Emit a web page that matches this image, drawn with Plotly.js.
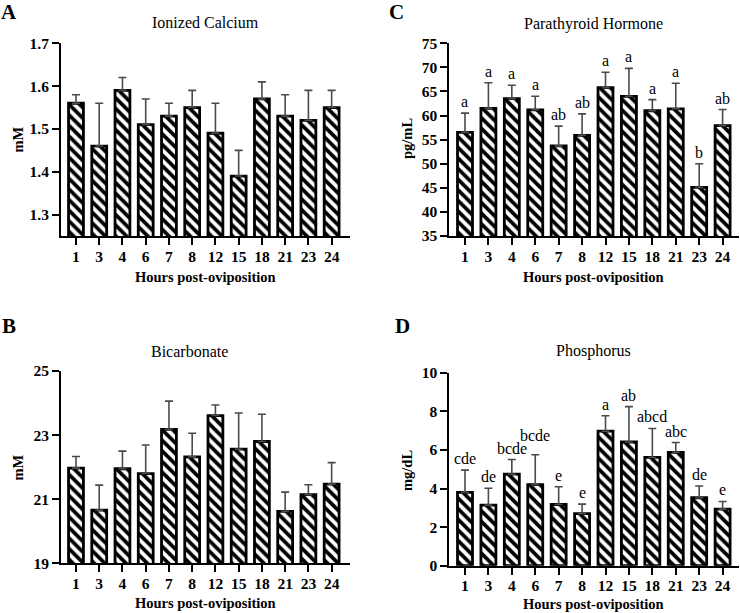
<!DOCTYPE html>
<html>
<head>
<meta charset="utf-8">
<script src="https://cdn.plot.ly/plotly-3.0.1.min.js"></script>
<style>html,body{margin:0;padding:0;background:#fff;}#chart{width:740px;height:613px;}</style>
</head>
<body>
<div id="chart"></div>
<script>
const hours = ['1','3','4','6','7','8','12','15','18','21','23','24'];

const calciumMean = [1.56,1.46,1.59,1.51,1.53,1.55,1.49,1.39,1.57,1.53,1.52,1.55];
const calciumSem  = [0.02,0.10,0.03,0.06,0.03,0.04,0.07,0.06,0.04,0.05,0.07,0.04];

const pthMean = [56.5,61.5,63.5,61.2,53.7,55.9,65.8,64.0,61.0,61.4,45.1,57.9];
const pthSem  = [4.0,5.3,2.8,2.8,4.1,4.45,3.2,5.8,2.3,5.3,4.9,3.35];
const pthLetters = ['a','a','a','a','ab','ab','a','a','a','a','b','ab'];

const bicarbMean = [21.97,20.66,21.95,21.80,23.18,22.32,23.61,22.56,22.80,20.62,21.14,21.47];
const bicarbSem  = [0.36,0.78,0.55,0.89,0.88,0.74,0.33,1.13,0.85,0.60,0.31,0.67];

const phosMean = [3.80,3.14,4.74,4.20,3.17,2.70,6.97,6.41,5.61,5.87,3.52,2.93];
const phosSem  = [1.15,0.87,0.76,1.55,0.92,0.49,0.80,1.83,1.50,0.51,0.61,0.40];
const phosLetters = ['cde','de','bcde','bcde','e','e','a','ab','abcd','abc','de','e'];

const SERIF = '"Liberation Serif", "Times New Roman", Times, serif';
const W = 740, H = 613;
const px = v => v / W;
const py = v => 1 - v / H;

function barTrace(vals, sem, xa, ya) {
  return {
    type: 'bar', x: hours, y: vals, xaxis: xa, yaxis: ya,
    width: 0.64,
    marker: {
      color: 'black',
      line: {color: 'black', width: 2.8},
      pattern: {shape: '\\', fgcolor: 'black', bgcolor: 'white', size: 7.5, solidity: 0.5}
    },
    error_y: {
      type: 'data', symmetric: false, array: sem,
      arrayminus: sem.map(() => 0),
      color: '#4a4a4a', thickness: 1.6, width: 4
    },
    hoverinfo: 'skip'
  };
}

const data = [
  barTrace(calciumMean, calciumSem, 'x', 'y'),
  barTrace(pthMean, pthSem, 'x2', 'y2'),
  barTrace(bicarbMean, bicarbSem, 'x3', 'y3'),
  barTrace(phosMean, phosSem, 'x4', 'y4')
];

function xAxis(domain, anchor, range) {
  return {
    domain: domain, anchor: anchor, type: 'category', range: range,
    showline: true, linecolor: 'black', linewidth: 2,
    ticks: 'outside', ticklen: 7, tickwidth: 2, tickcolor: 'black',
    ticklabelstandoff: -2,
    showgrid: false, zeroline: false,
    tickfont: {family: SERIF, size: 15.5, color: 'black', weight: 'bold'},
    fixedrange: true
  };
}
function yAxis(domain, anchor, range, tickvals, fmt) {
  return {
    domain: domain, anchor: anchor, range: range, tickvals: tickvals, tickformat: fmt,
    showline: true, linecolor: 'black', linewidth: 2,
    ticks: 'outside', ticklen: 7, tickwidth: 2, tickcolor: 'black',
    showgrid: false, zeroline: false,
    tickfont: {family: SERIF, size: 15.5, color: 'black', weight: 'bold'},
    fixedrange: true
  };
}

const leftX = [px(61), px(350)];
const rightX = [px(449.3), px(739)];
const topY = [py(236), py(43.3)];
const botYL = [py(563.3), py(371)];
const botYR = [py(565.7), py(372.7)];
const rangeL = [-0.645, 11.79];
const rangeR = [-0.67, 11.7];

const annotations = [];
function txt(x, y, text, size, bold, angle) {
  annotations.push({
    xref: 'paper', yref: 'paper', x: px(x), y: py(y), text: text,
    showarrow: false, xanchor: 'center', yanchor: 'middle',
    textangle: angle || 0,
    font: {family: SERIF, size: size, color: 'black', weight: bold ? 'bold' : 'normal'}
  });
}
// panel letters
txt(9, 12, 'A', 21, true);
txt(397, 12, 'C', 21, true);
txt(9, 326, 'B', 21, true);
txt(402, 326, 'D', 21, true);
// titles
txt(205, 23, 'Ionized Calcium', 16, false);
txt(593, 24, 'Parathyroid Hormone', 16, false);
txt(189, 352, 'Bicarbonate', 16, false);
txt(593, 351, 'Phosphorus', 16, false);
// x titles
txt(205, 277, 'Hours post-oviposition', 14.5, true);
txt(593, 277, 'Hours post-oviposition', 14.5, true);
txt(205, 603, 'Hours post-oviposition', 14.5, true);
txt(593, 604, 'Hours post-oviposition', 14.5, true);
// y titles
txt(17, 139.5, 'mM', 14.5, true, -90);
txt(407, 139, 'pg/mL', 14.5, true, -90);
txt(17, 467.5, 'mM', 14.5, true, -90);
txt(407, 471, 'mg/dL', 14.5, true, -90);

// significance letters (x given as category index)
function letters(labels, mean, sem, xr, yr, extra) {
  labels.forEach((t, i) => {
    annotations.push({
      xref: xr, yref: yr, x: i, y: mean[i] + sem[i], text: t,
      showarrow: false, xanchor: 'center', yanchor: 'bottom',
      yshift: 1 + (extra[i] || 0),
      font: {family: SERIF, size: 16, color: 'black'}
    });
  });
}
letters(pthLetters, pthMean, pthSem, 'x2', 'y2', {});
letters(phosLetters, phosMean, phosSem, 'x4', 'y4', {3: 8});

const layout = {
  width: W, height: H,
  margin: {l: 0, r: 0, t: 0, b: 0},
  paper_bgcolor: 'white', plot_bgcolor: 'white',
  showlegend: false,
  font: {family: SERIF},
  xaxis: xAxis(leftX, 'y', rangeL),
  yaxis: yAxis(topY, 'x', [1.25, 1.7], [1.3,1.4,1.5,1.6,1.7], '.1f'),
  xaxis2: xAxis(rightX, 'y2', rangeR),
  yaxis2: yAxis(topY, 'x2', [35, 75], [35,40,45,50,55,60,65,70,75], 'd'),
  xaxis3: xAxis(leftX, 'y3', rangeL),
  yaxis3: yAxis(botYL, 'x3', [19, 25], [19,21,23,25], 'd'),
  xaxis4: xAxis(rightX, 'y4', rangeR),
  yaxis4: yAxis(botYR, 'x4', [0, 10], [0,2,4,6,8,10], 'd'),
  annotations: annotations
};

Plotly.newPlot('chart', data, layout, {displayModeBar: false, staticPlot: true});
</script>
</body>
</html>
